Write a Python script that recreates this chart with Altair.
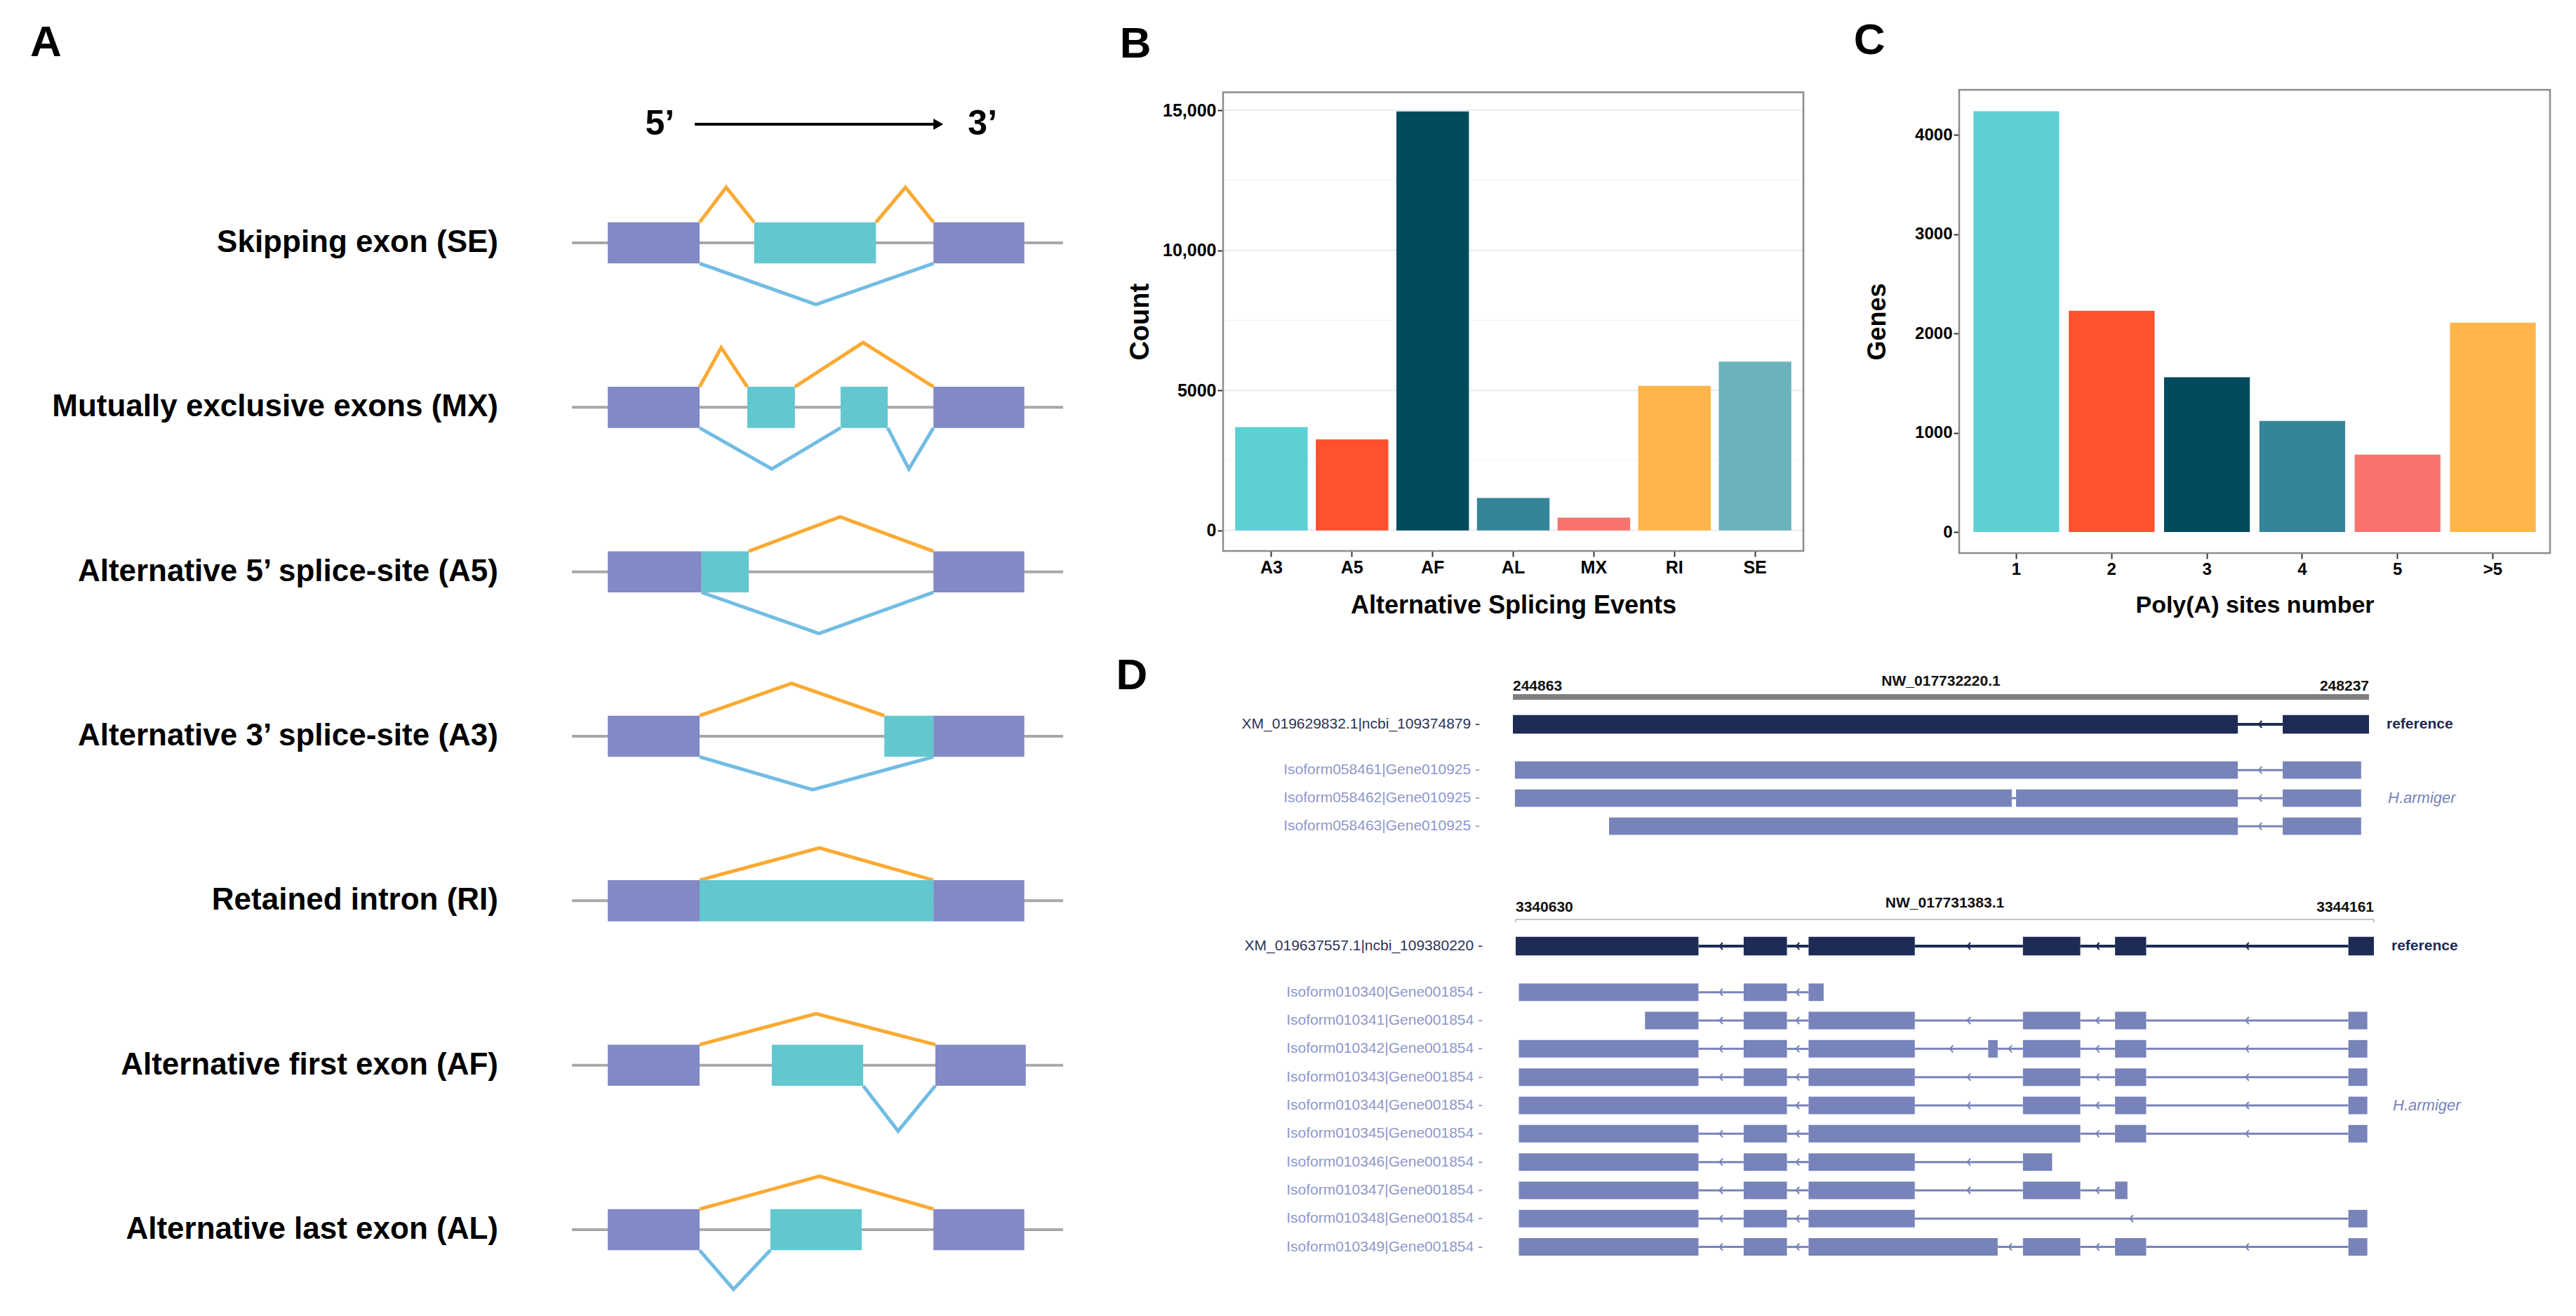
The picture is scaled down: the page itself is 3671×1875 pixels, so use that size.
import altair as alt
import pandas as pd

FONT = "Liberation Sans"
W, H = 3655, 1859  # whole chart (page adds an 8 px margin)

# ---------------- Panel A: splicing-event schematics (schematic units) ----------------
a_events = ["Skipping exon (SE)", "Mutually exclusive exons (MX)",
            "Alternative 5\u2019 splice-site (A5)", "Alternative 3\u2019 splice-site (A3)",
            "Retained intron (RI)", "Alternative first exon (AF)", "Alternative last exon (AL)"]
a_exon_row = [0, 0, 0, 1, 1, 1, 1, 2, 2, 2, 3, 3, 3, 4, 4, 4, 5, 5, 5, 6, 6, 6]
a_exon_start = [7.3, 37.1, 73.6, 7.3, 35.7, 54.7, 73.6, 7.3, 26.4, 73.6, 7.3, 63.6, 73.6,
                7.3, 26.0, 73.6, 7.3, 40.7, 74.0, 7.3, 40.4, 73.6]
a_exon_end = [26.0, 61.9, 92.1, 26.0, 45.4, 64.3, 92.1, 26.4, 36.0, 92.1, 26.0, 73.6, 92.1,
              26.0, 73.6, 92.1, 26.0, 59.3, 92.4, 26.0, 59.0, 92.1]
a_exon_kind = ["const", "alt", "const", "const", "alt", "alt", "const", "const", "alt", "const",
               "const", "alt", "const", "const", "alt", "const", "const", "alt", "const",
               "const", "alt", "const"]
a_jn_row = [0, 0, 0, 1, 1, 1, 1, 2, 2, 3, 3, 4, 5, 5, 6, 6]
a_jn_side = ["inc", "inc", "skip", "inc", "inc", "skip", "skip", "inc", "skip", "inc", "skip",
             "inc", "inc", "skip", "inc", "skip"]
a_jn_from = [26.0, 61.9, 26.0, 26.0, 45.4, 26.0, 64.3, 36.0, 26.4, 26.0, 26.0, 26.0, 26.0, 59.3, 26.0, 26.0]
a_jn_peak = [31.4, 67.9, 49.7, 30.4, 59.3, 40.7, 68.6, 54.6, 50.3, 44.7, 49.0, 50.4, 49.7, 66.4, 50.4, 32.9]
a_jn_to = [37.1, 73.6, 73.6, 35.7, 73.6, 54.7, 73.6, 73.6, 73.6, 63.6, 73.6, 73.6, 74.0, 74.0, 73.6, 40.4]
a_jn_depth = [1.7, 1.7, 2.0, 1.9, 2.15, 2.0, 2.0, 1.67, 2.0, 1.57, 1.6, 1.57, 1.5, 2.2, 1.6, 1.9]

# ---------------- Panel B ----------------
b_events = ["A3", "A5", "AF", "AL", "MX", "RI", "SE"]
b_counts = [3690, 3250, 14960, 1160, 460, 5160, 6030]
b_colors = ["#5DD0D6", "#FF5130", "#024B5F", "#348599", "#F7736B", "#FFB54A", "#6BB2BC"]
b_ticks = [0, 5000, 10000, 15000]
b_minor = [2500, 7500, 12500]

# ---------------- Panel C ----------------
c_sites = ["1", "2", "3", "4", "5", ">5"]
c_genes = [4240, 2230, 1560, 1120, 780, 2110]
c_colors = ["#5DD0D6", "#FF5130", "#024B5F", "#348599", "#F7736B", "#FFB54A"]
c_ticks = [0, 1000, 2000, 3000, 4000]

# ---------------- Panel D (genomic coordinates) ----------------
d1_chrom = "NW_017732220.1"
d1_span = [244863, 248237]
d1_tx = ["XM_019629832.1|ncbi_109374879", "Isoform058461|Gene010925",
         "Isoform058462|Gene010925", "Isoform058463|Gene010925"]
d1_ex_tx = [0, 0, 1, 1, 2, 2, 2, 3, 3]
d1_ex_start = [244863, 247897, 244871, 247897, 244871, 246846, 247897, 245242, 247897]
d1_ex_end = [247720, 248237, 247720, 248206, 246829, 247720, 248206, 247720, 248206]

d2_chrom = "NW_017731383.1"
d2_span = [3340630, 3344161]
d2_tx = ["XM_019637557.1|ncbi_109380220"] + ["Isoform0103%d|Gene001854" % k for k in range(40, 50)]
d2_ex_tx = [0] * 6 + [1] * 3 + [2] * 6 + [3] * 7 + [4] * 6 + [5] * 5 + [6] * 5 + [7] * 4 + [8] * 5 + [9] * 4 + [10] * 6
d2_ex_start = [
    3340630, 3341568, 3341835, 3342717, 3343096, 3344056,
    3340643, 3341568, 3341835,
    3341162, 3341568, 3341835, 3342717, 3343096, 3344056,
    3340643, 3341568, 3341835, 3342574, 3342717, 3343096, 3344056,
    3340643, 3341568, 3341835, 3342717, 3343096, 3344056,
    3340643, 3341835, 3342717, 3343096, 3344056,
    3340643, 3341568, 3341835, 3343096, 3344056,
    3340643, 3341568, 3341835, 3342717,
    3340643, 3341568, 3341835, 3342717, 3343096,
    3340643, 3341568, 3341835, 3344056,
    3340643, 3341568, 3341835, 3342717, 3343096, 3344056]
d2_ex_end = [
    3341382, 3341746, 3342272, 3342953, 3343224, 3344161,
    3341382, 3341746, 3341897,
    3341382, 3341746, 3342272, 3342953, 3343224, 3344134,
    3341382, 3341746, 3342272, 3342613, 3342953, 3343224, 3344134,
    3341382, 3341746, 3342272, 3342953, 3343224, 3344134,
    3341746, 3342272, 3342953, 3343224, 3344134,
    3341382, 3341746, 3342953, 3343224, 3344134,
    3341382, 3341746, 3342272, 3342837,
    3341382, 3341746, 3342272, 3342953, 3343147,
    3341382, 3341746, 3342272, 3344134,
    3341382, 3341746, 3342613, 3342953, 3343224, 3344134]

# ======================= layout / style =======================
PURPLE, CYAN, GREY, ORANGE, BLUE = "#8289C4", "#63C7CF", "#A8A8A8", "#FAAA33", "#72BCE3"
NAVY, ISO = "#1D2B55", "#7783B9"
NAVY_LAB, ISO_LAB = "#2B3358", "#8E97CB"


def lin(domain, rng):
    return alt.Scale(domain=domain, range=rng, nice=False, zero=False)


def X(f, s):
    return alt.X(f, type="quantitative", scale=s, axis=None)


def Y(f, s):
    return alt.Y(f, type="quantitative", scale=s, axis=None)


layers = []

# ---------- Panel A ----------
ROW = 8
A_X = lin([0, 100], [807, 1507])
A_Y = lin([0, 48], [338, 1744])

rows_df = pd.DataFrame({"label": a_events, "y": [i * ROW for i in range(len(a_events))]})
rows_df["x0"], rows_df["x1"], rows_df["lx"] = 0, 100, -15
layers.append(alt.Chart(rows_df).mark_rule(color=GREY, strokeWidth=4).encode(
    x=X("x0", A_X), x2="x1:Q", y=Y("y", A_Y)))

pts = []
for j in range(len(a_jn_row)):
    s = -1 if a_jn_side[j] == "inc" else 1
    base = a_jn_row[j] * ROW
    col = ORANGE if a_jn_side[j] == "inc" else BLUE
    for k, (xx, yy) in enumerate([(a_jn_from[j], base + s), (a_jn_peak[j], base + s * (1 + a_jn_depth[j])),
                                   (a_jn_to[j], base + s)]):
        pts.append({"jid": j, "pt": k, "x": xx, "y": yy, "col": col})
layers.append(alt.Chart(pd.DataFrame(pts)).mark_line(strokeWidth=5).encode(
    x=X("x", A_X), y=Y("y", A_Y), detail="jid:N", order="pt:Q",
    color=alt.Color("col:N", scale=None)))

ex_a = pd.DataFrame({"row": a_exon_row, "start": a_exon_start, "end": a_exon_end, "kind": a_exon_kind})
ex_a["top"] = ex_a["row"] * ROW - 1
ex_a["bot"] = ex_a["row"] * ROW + 1
ex_a["col"] = [PURPLE if k == "const" else CYAN for k in ex_a["kind"]]
layers.append(alt.Chart(ex_a).mark_rect().encode(
    x=X("start", A_X), x2="end:Q", y=Y("top", A_Y), y2="bot:Q", color=alt.Color("col:N", scale=None)))

layers.append(alt.Chart(rows_df).mark_text(align="right", baseline="middle", font=FONT, fontSize=44,
                                           fontWeight="bold", color="black").encode(
    x=X("lx", A_X), y=Y("y", A_Y), text="label:N"))

arrow_df = pd.DataFrame({"x": [25.0], "x2": [74.0], "y": [-5.77]})
layers.append(alt.Chart(arrow_df).mark_rule(color="black", strokeWidth=4).encode(
    x=X("x", A_X), x2="x2:Q", y=Y("y", A_Y)))
layers.append(alt.Chart(pd.DataFrame({"x": [74.6], "y": [-5.77]})).mark_point(
    shape="triangle-right", filled=True, size=260, color="black", opacity=1).encode(
    x=X("x", A_X), y=Y("y", A_Y)))
layers.append(alt.Chart(pd.DataFrame({"t": ["5\u2019", "3\u2019"], "x": [17.9, 83.6], "y": [-5.77, -5.77]}))
              .mark_text(font=FONT, fontSize=50, fontWeight="bold", baseline="middle", color="black")
              .encode(x=X("x", A_X), y=Y("y", A_Y), text="t:N"))
layers.append(alt.Chart(pd.DataFrame({"t": ["A"], "x": [-107.1], "y": [-9.73]}))
              .mark_text(font=FONT, fontSize=62, fontWeight="bold", baseline="middle", color="black")
              .encode(x=X("x", A_X), y=Y("y", A_Y), text="t:N"))


# ---------- Panels B and C: bar charts ----------
def bar_panel(cats, vals, cols, frame_x, frame_y, ydom, ticks, minor, label_expr, xtitle, ytitle,
              letter, lab_size, title_size, ytitle_pad, xtitle_pad, grid):
    FX, FY = lin([0, 1], frame_x), lin([0, 1], frame_y)
    VY = lin(ydom, frame_y)
    out = []
    if grid:
        for vals_g, colg, sw in [(minor, "#F3F3F3", 1.3), (ticks, "#EBEBEB", 2)]:
            g = pd.DataFrame({"v": vals_g})
            g["a"], g["b"] = 0, 1
            out.append(alt.Chart(g).mark_rule(color=colg, strokeWidth=sw).encode(
                x=X("a", FX), x2="b:Q", y=Y("v", VY)))
    df = pd.DataFrame({"cat": cats, "val": vals, "col": cols})
    out.append(alt.Chart(df).mark_bar().encode(
        x=alt.X("cat:N", sort=cats,
                scale=alt.Scale(domain=cats, range=frame_x, paddingInner=0.1, paddingOuter=0.15),
                axis=alt.Axis(orient="bottom", offset=frame_y[0] - H, title=xtitle, labelAngle=0,
                              labelFont=FONT, labelFontSize=lab_size, labelFontWeight="bold",
                              labelColor="black", labelPadding=3, tickSize=8, tickWidth=2,
                              tickColor="#333333", domain=False, grid=False, titleFont=FONT,
                              titleFontSize=title_size, titleFontWeight="bold", titleColor="black",
                              titlePadding=xtitle_pad)),
        y=alt.Y("val:Q", scale=VY,
                axis=alt.Axis(orient="left", offset=-frame_x[0], values=ticks, labelExpr=label_expr,
                              labelFont=FONT, labelFontSize=lab_size, labelFontWeight="bold",
                              labelColor="black", labelPadding=2, tickSize=8, tickWidth=2,
                              tickColor="#333333", domain=False, grid=False, title=ytitle,
                              titleFont=FONT, titleFontSize=title_size + 2, titleFontWeight="bold",
                              titleColor="black", titlePadding=ytitle_pad)),
        color=alt.Color("col:N", scale=None)))
    fr = pd.DataFrame({"a": [0], "b": [1]})
    out.append(alt.Chart(fr).mark_rect(fillOpacity=0, stroke="#8C8C8C", strokeWidth=2.5).encode(
        x=X("a", FX), x2="b:Q", y=Y("a", FY), y2="b:Q"))
    out.append(alt.Chart(pd.DataFrame({"t": [letter[0]], "x": [letter[1]], "y": [letter[2]]}))
               .mark_text(font=FONT, fontSize=62, fontWeight="bold", baseline="middle", color="black")
               .encode(x=X("x", FX), y=Y("y", FY), text="t:N"))
    return out


layers += bar_panel(b_events, b_counts, b_colors, [1735, 2562], [777, 123.5], [-730, 15640], b_ticks,
                    b_minor, "datum.value >= 10000 ? format(datum.value, ',') : format(datum.value, 'd')",
                    "Alternative Splicing Events", "Count", ("B", -0.151, 1.105), 25, 36, 12, 24, True)
layers += bar_panel(c_sites, c_genes, c_colors, [2784, 3626], [780, 120], [-212, 4456], c_ticks,
                    [], "format(datum.value, 'd')", "Poly(A) sites number", "Genes",
                    ("C", -0.152, 1.106), 24, 34, 34, 22, False)

# ---------- Panel D: transcript tracks ----------
GAP = 1.63


def track(names, ex_tx, ex_start, ex_end, span, chrom, xr, ydom, yr, ruler, letter=None):
    TX, TY = lin(span, xr), lin(ydom, yr)
    slots = [0.0] + [GAP + i for i in range(len(names) - 1)]
    out = []
    # ruler
    if ruler == "bar":
        r = pd.DataFrame({"a": [span[0]], "b": [span[1]], "y": [-0.975]})
        out.append(alt.Chart(r).mark_rule(color="#7F7F7F", strokeWidth=8).encode(
            x=X("a", TX), x2="b:Q", y=Y("y", TY)))
    else:
        r = pd.DataFrame({"a": [span[0]], "b": [span[1]], "y": [-0.94]})
        out.append(alt.Chart(r).mark_rule(color="#C4C4C4", strokeWidth=2).encode(
            x=X("a", TX), x2="b:Q", y=Y("y", TY)))
        e = pd.DataFrame({"x": span, "y": [-0.94, -0.94], "y2": [-0.84, -0.84]})
        out.append(alt.Chart(e).mark_rule(color="#C4C4C4", strokeWidth=2).encode(
            x=X("x", TX), y=Y("y", TY), y2="y2:Q"))
    coords = pd.DataFrame({"t": [str(span[0]), str(span[1])], "x": span, "y": [-1.36, -1.36],
                           "al": ["left", "right"]})
    for al in ["left", "right"]:
        out.append(alt.Chart(coords[coords["al"] == al]).mark_text(
            align=al, baseline="middle", font=FONT, fontSize=21, fontWeight="bold", color="#111111")
            .encode(x=X("x", TX), y=Y("y", TY), text="t:N"))
    out.append(alt.Chart(pd.DataFrame({"t": [chrom], "x": [(span[0] + span[1]) / 2], "y": [-1.52]}))
               .mark_text(baseline="middle", font=FONT, fontSize=21, fontWeight="bold", color="#111111")
               .encode(x=X("x", TX), y=Y("y", TY), text="t:N"))
    # exons and introns
    ex = pd.DataFrame({"tx": ex_tx, "start": ex_start, "end": ex_end})
    ex["slot"] = [slots[t] for t in ex["tx"]]
    hh = [0.33 if t == 0 else 0.31 for t in ex["tx"]]
    ex["y0"] = ex["slot"] - hh
    ex["y1"] = ex["slot"] + hh
    ex["col"] = [NAVY if t == 0 else ISO for t in ex["tx"]]
    introns = []
    for t in sorted(set(ex_tx)):
        sub = ex[ex["tx"] == t].sort_values("start")
        s_list, e_list = list(sub["start"]), list(sub["end"])
        for k in range(len(s_list) - 1):
            introns.append({"a": e_list[k], "b": s_list[k + 1], "y": slots[t],
                            "mid": (e_list[k] + s_list[k + 1]) / 2,
                            "long": s_list[k + 1] - e_list[k] > 40,
                            "col": NAVY if t == 0 else ISO, "sw": 4 if t == 0 else 3})
    intr = pd.DataFrame(introns)
    out.append(alt.Chart(intr).mark_rule().encode(
        x=X("a", TX), x2="b:Q", y=Y("y", TY), color=alt.Color("col:N", scale=None),
        strokeWidth=alt.StrokeWidth("sw:Q", scale=None)))
    out.append(alt.Chart(intr[intr["long"]]).mark_point(
        shape="M0.45,-1L-0.45,0L0.45,1", filled=False, size=100, strokeWidth=2, opacity=1).encode(
        x=X("mid", TX), y=Y("y", TY), color=alt.Color("col:N", scale=None)))
    out.append(alt.Chart(ex).mark_rect().encode(
        x=X("start", TX), x2="end:Q", y=Y("y0", TY), y2="y1:Q", color=alt.Color("col:N", scale=None)))
    # row labels
    lab = pd.DataFrame({"t": [n + " -" for n in names], "y": slots,
                        "col": [NAVY_LAB] + [ISO_LAB] * (len(names) - 1)})
    lab["x"] = span[0]
    out.append(alt.Chart(lab).mark_text(align="right", baseline="middle", dx=-47, font=FONT,
                                        fontSize=21).encode(
        x=X("x", TX), y=Y("y", TY), text="t:N", color=alt.Color("col:N", scale=None)))
    side = pd.DataFrame({"x": [span[1]], "y": [0.0]})
    out.append(alt.Chart(side).mark_text(text="reference", align="left", baseline="middle", dx=25,
                                         font=FONT, fontSize=21, fontWeight="bold", color=NAVY)
               .encode(x=X("x", TX), y=Y("y", TY)))
    side2 = pd.DataFrame({"x": [span[1]], "y": [slots[1 + (len(names) - 2) // 2]]})
    out.append(alt.Chart(side2).mark_text(text="H.armiger", align="left", baseline="middle", dx=27,
                                          font=FONT, fontSize=22, fontStyle="italic", color=ISO)
               .encode(x=X("x", TX), y=Y("y", TY)))
    if letter:
        out.append(alt.Chart(pd.DataFrame({"t": [letter[0]], "x": [letter[1]], "y": [letter[2]]}))
                   .mark_text(font=FONT, fontSize=62, fontWeight="bold", baseline="middle", color="black")
                   .encode(x=X("x", TX), y=Y("y", TY), text="t:N"))
    return out


layers += track(d1_tx, d1_ex_tx, d1_ex_start, d1_ex_end, d1_span, d1_chrom, [2148, 3368],
                [0, 4], [1024, 1184], "bar", letter=("D", 243361, -1.725))
layers += track(d2_tx, d2_ex_tx, d2_ex_start, d2_ex_end, d2_span, d2_chrom, [2152, 3375],
                [0, 10], [1340, 1743.2], "thin")

chart = alt.layer(*layers).resolve_scale(x="independent", y="independent").properties(
    width=W, height=H, autosize=alt.AutoSizeParams(type="none"), padding=0,
    background="white").configure_view(stroke=None)

chart.save("out.html", embed_options={"renderer": "svg", "actions": False})
